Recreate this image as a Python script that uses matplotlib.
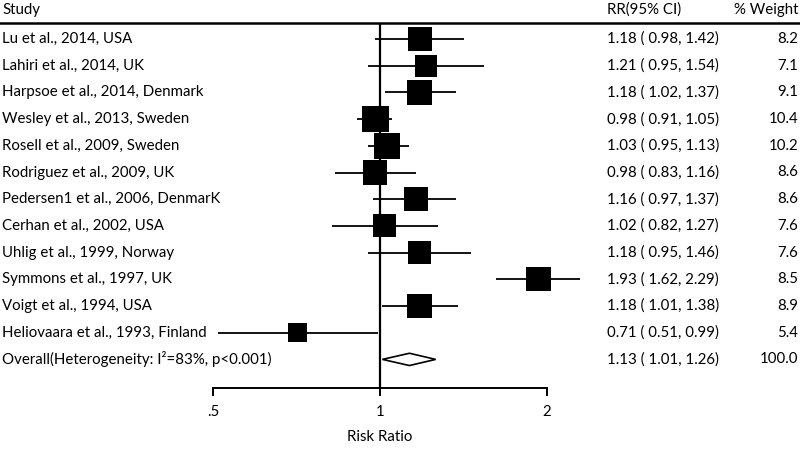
import numpy as np
import matplotlib
matplotlib.use("Agg")
import matplotlib.pyplot as plt
from matplotlib.patches import Polygon
import matplotlib.transforms as mtransforms

plt.rcParams['font.family'] = ['Lato', 'DejaVu Sans']

# data
studies = ["Lu et al., 2014, USA", "Lahiri et al., 2014, UK", "Harpsoe et al., 2014, Denmark",
           "Wesley et al., 2013, Sweden", "Rosell et al., 2009, Sweden", "Rodriguez et al., 2009, UK",
           "Pedersen1 et al., 2006, DenmarK", "Cerhan et al., 2002, USA", "Uhlig et al., 1999, Norway",
           "Symmons et al., 1997, UK", "Voigt et al., 1994, USA", "Heliovaara et al., 1993, Finland"]
rr = [1.18, 1.21, 1.18, 0.98, 1.03, 0.98, 1.16, 1.02, 1.18, 1.93, 1.18, 0.71]
lo = [0.98, 0.95, 1.02, 0.91, 0.95, 0.83, 0.97, 0.82, 0.95, 1.62, 1.01, 0.51]
hi = [1.42, 1.54, 1.37, 1.05, 1.13, 1.16, 1.37, 1.27, 1.46, 2.29, 1.38, 0.99]
weight = [8.2, 7.1, 9.1, 10.4, 10.2, 8.6, 8.6, 7.6, 7.6, 8.5, 8.9, 5.4]
overall_label = "Overall(Heterogeneity: I\u00b2=83%, p<0.001)"
overall = (1.13, 1.01, 1.26)
overall_weight = 100.0
ticks = [0.5, 1, 2]
tick_labels = [".5", "1", "2"]

W, H = 800, 451
fig = plt.figure(figsize=(W / 100, H / 100), dpi=100)
ax = fig.add_axes([0, 0, 1, 1])
ax.set_xscale('log', base=2)

# pixel layout: x=1 at px 380, 167 px per doubling; row 0 at px 39, 26.7 px per row
x0, ppd = 380, 167.0
ax.set_xlim(2 ** ((0 - x0) / ppd), 2 ** ((W - x0) / ppd))
r0, rs = 39, 26.7
def row(px):
    return (px - r0) / rs
ax.set_ylim(row(H), row(0))
ax.axis('off')

fs = 10.8
trans = mtransforms.blended_transform_factory(ax.transAxes, ax.transData)
n = len(studies)
ys = np.arange(n)

# CI lines and boxes
ax.hlines(ys, lo, hi, color='black', lw=1.3, zorder=2)
ax.scatter(rr, ys, marker='s', s=[(8.3 * np.sqrt(w) * 0.72) ** 2 for w in weight],
           color='black', zorder=3, linewidths=0)

# overall diamond
yo = n
h = 0.23
ax.add_patch(Polygon([(overall[1], yo), (overall[0], yo - h), (overall[2], yo), (overall[0], yo + h)],
                     closed=True, facecolor='white', edgecolor='black', lw=1.2, zorder=3))

# header rule and null line
ax.plot([0, 1], [row(23), row(23)], transform=trans, color='black', lw=1.8, clip_on=False)
y_axis = row(388)
ax.vlines(1, row(23), y_axis, color='black', lw=1.6, zorder=1)

# x axis
ax.plot([ticks[0], ticks[-1]], [y_axis, y_axis], color='black', lw=1.4)
ax.vlines(ticks, y_axis, row(396), color='black', lw=1.4)
for t, lab in zip(ticks, tick_labels):
    ax.text(t, row(412), lab, ha='center', va='center', fontsize=fs)
ax.text(1, row(437), "Risk Ratio", ha='center', va='center', fontsize=fs)

# headers
ax.text(0.003, row(10), "Study", transform=trans, ha='left', va='center', fontsize=fs)
ax.text(607 / W, row(10), "RR(95% CI)", transform=trans, ha='left', va='center', fontsize=fs)
ax.text(798 / W, row(10), "% Weight", transform=trans, ha='right', va='center', fontsize=fs)

# table text
labels = studies + [overall_label]
rrs = rr + [overall[0]]
los = lo + [overall[1]]
his = hi + [overall[2]]
ws = weight + [overall_weight]
for i in range(n + 1):
    ax.text(0.003, i, labels[i], transform=trans, ha='left', va='center', fontsize=fs)
    ax.text(607 / W, i, "%.2f ( %.2f, %.2f)" % (rrs[i], los[i], his[i]), transform=trans,
            ha='left', va='center', fontsize=fs)
    ax.text(798 / W, i, "%.1f" % ws[i], transform=trans, ha='right', va='center', fontsize=fs)

fig.savefig("out.png", dpi=100)
